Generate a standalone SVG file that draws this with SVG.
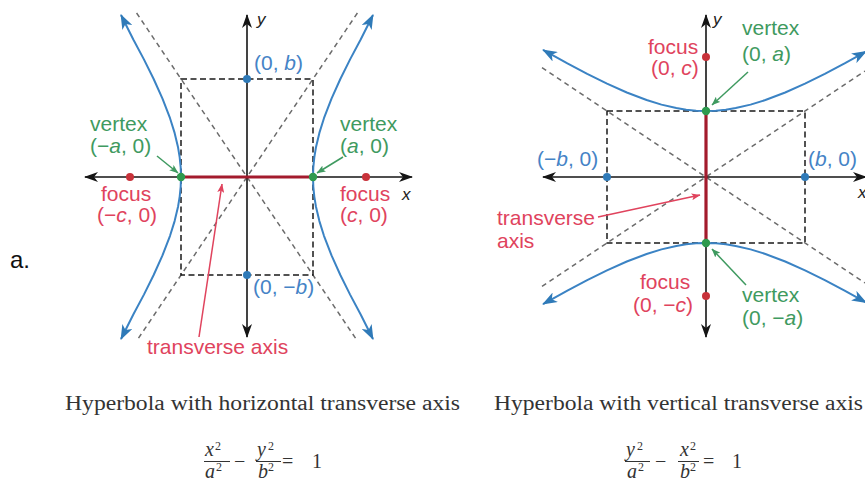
<svg xmlns="http://www.w3.org/2000/svg" width="865" height="487" viewBox="0 0 865 487">
<defs>
<style>
.lbl{font-family:"Liberation Sans",Arial,sans-serif;font-size:21px}
.blue{fill:#4583c6}.green{fill:#3f9a60}.red{fill:#e0435d}
.it{font-style:italic}
.axlbl{font-family:"Liberation Sans",Arial,sans-serif;font-size:17px;font-style:italic;fill:#222}
.cap{font-family:"Liberation Serif","Times New Roman",serif;font-size:20px;fill:#333}
.math{font-family:"Liberation Serif","Times New Roman",serif;font-size:20px;fill:#333}
.sup{font-family:"Liberation Serif","Times New Roman",serif;font-size:12px;fill:#333}
.asym{fill:none;stroke:#6b6b6b;stroke-width:1.5;stroke-dasharray:5 4}
.box{fill:none;stroke:#1a1a1a;stroke-width:1.5;stroke-dasharray:6 3.5}
.axis{fill:none;stroke:#151515;stroke-width:1.6;marker-start:url(#axArrow);marker-end:url(#axArrow)}
.curve{fill:none;stroke:#3b83c4;stroke-width:2;stroke-linejoin:round;marker-start:url(#blueArrow);marker-end:url(#blueArrow)}
.trans{stroke:#a31b2d;stroke-width:3.2}
.gptr{stroke:#3f9a60;stroke-width:1.5;marker-end:url(#greenArrow)}
.rptr{stroke:#e0435d;stroke-width:1.5;marker-end:url(#redArrow)}
.bdot{fill:#2f7ab8}.gdot{fill:#2e9a4e}.rdot{fill:#c8323a}
.frac{stroke:#333;stroke-width:1}
</style>
<marker id="axArrow" markerUnits="userSpaceOnUse" markerWidth="14" markerHeight="10" viewBox="0 0 14 10" refX="13" refY="5" orient="auto-start-reverse"><path d="M0,0 L14,5 L0,10 L4,5 z" fill="#151515"/></marker>
<marker id="blueArrow" markerUnits="userSpaceOnUse" markerWidth="15" markerHeight="11" viewBox="0 0 15 11" refX="14" refY="5.5" orient="auto-start-reverse"><path d="M0,0 L15,5.5 L0,11 L4,5.5 z" fill="#2f7ab8"/></marker>
<marker id="greenArrow" markerUnits="userSpaceOnUse" markerWidth="9" markerHeight="7" viewBox="0 0 9 7" refX="8.5" refY="3.5" orient="auto"><path d="M0,0 L9,3.5 L0,7 L2,3.5 z" fill="#3f9a60"/></marker>
<marker id="redArrow" markerUnits="userSpaceOnUse" markerWidth="9" markerHeight="7" viewBox="0 0 9 7" refX="8.5" refY="3.5" orient="auto"><path d="M0,0 L9,3.5 L0,7 L2,3.5 z" fill="#e0435d"/></marker>
</defs>
<rect width="865" height="487" fill="#ffffff"/>

<text x="10" y="268" font-family="'Liberation Sans',Arial,sans-serif" font-size="24" fill="#111">a.</text>

<g id="horizontal-hyperbola">
  <line class="asym" x1="136.6" y1="13" x2="357.4" y2="341"/>
  <line class="asym" x1="357.4" y1="13" x2="136.6" y2="341"/>
  <rect class="box" x="181" y="79" width="132" height="196"/>
  <line class="axis" x1="85" y1="177" x2="412" y2="177"/>
  <line class="axis" x1="247" y1="337" x2="247" y2="15"/>
  <polyline class="curve" points="121,15 133.45,39.8 143.91,59.4 153.66,79 162.48,98.6 170.03,118.2 174.62,132.9 178.09,147.6 179.69,157.4 180.67,167.2 181,177 180.67,186.8 179.69,196.6 178.09,206.4 174.62,221.1 170.03,235.8 162.48,255.4 153.66,275 143.91,294.6 133.45,314.2 121,339"/>
  <polyline class="curve" points="373,15 360.55,39.8 350.09,59.4 340.34,79 331.52,98.6 323.97,118.2 319.38,132.9 315.91,147.6 314.31,157.4 313.33,167.2 313,177 313.33,186.8 314.31,196.6 315.91,206.4 319.38,221.1 323.97,235.8 331.52,255.4 340.34,275 350.09,294.6 360.55,314.2 373,339"/>
  <line class="trans" x1="181" y1="177" x2="313" y2="177"/>
  <circle class="bdot" cx="247" cy="79" r="4"/>
  <circle class="bdot" cx="247" cy="275" r="4"/>
  <circle class="gdot" cx="181" cy="177" r="4.2"/>
  <circle class="gdot" cx="313" cy="177" r="4.2"/>
  <circle class="rdot" cx="130" cy="177" r="4"/>
  <circle class="rdot" cx="366" cy="177" r="4"/>
  <g id="h-pointers">
    <line class="gptr" x1="157" y1="156" x2="178" y2="173"/>
    <line class="gptr" x1="343" y1="157" x2="317" y2="173"/>
    <line class="rptr" x1="199" y1="337" x2="222" y2="184"/>
  </g>
  <text class="axlbl" x="257" y="25">y</text>
  <text class="axlbl" x="402" y="200">x</text>
  <text class="lbl blue" x="254" y="70">(0, <tspan class="it">b</tspan>)</text>
  <text class="lbl green" x="90" y="131">vertex</text>
  <text class="lbl green" x="90" y="153">(−<tspan class="it">a</tspan>, 0)</text>
  <text class="lbl green" x="340" y="131">vertex</text>
  <text class="lbl green" x="340" y="153">(<tspan class="it">a</tspan>, 0)</text>
  <text class="lbl red" x="101" y="201">focus</text>
  <text class="lbl red" x="97" y="222">(−<tspan class="it">c</tspan>, 0)</text>
  <text class="lbl red" x="340" y="201">focus</text>
  <text class="lbl red" x="340" y="222">(<tspan class="it">c</tspan>, 0)</text>
  <text class="lbl blue" x="253" y="294">(0, −<tspan class="it">b</tspan>)</text>
  <text class="lbl red" x="147" y="354">transverse axis</text>
</g>

<g id="vertical-hyperbola">
  <line class="asym" x1="542" y1="67.7" x2="865" y2="283"/>
  <line class="asym" x1="542" y1="286.3" x2="865" y2="71"/>
  <rect class="box" x="607" y="111" width="198" height="132"/>
  <line class="axis" x1="543" y1="177" x2="866" y2="177"/>
  <line class="axis" x1="706" y1="337" x2="706" y2="15"/>
  <polyline class="curve" points="543.05,49.89 567.4,63.45 587.2,73.9 607,83.66 626.8,92.48 646.6,100.03 661.45,104.62 676.3,108.09 686.2,109.69 696.1,110.67 706,111 715.9,110.67 725.8,109.69 735.7,108.09 750.55,104.62 765.4,100.03 785.2,92.48 805,83.66 824.8,73.9 844.6,63.45 866,51.5"/>
  <polyline class="curve" points="543.05,304.11 567.4,290.55 587.2,280.1 607,270.34 626.8,261.52 646.6,253.97 661.45,249.38 676.3,245.91 686.2,244.31 696.1,243.33 706,243 715.9,243.33 725.8,244.31 735.7,245.91 750.55,249.38 765.4,253.97 785.2,261.52 805,270.34 824.8,280.1 844.6,290.55 866,302.5"/>
  <line class="trans" x1="706" y1="111" x2="706" y2="243"/>
  <circle class="bdot" cx="607" cy="177" r="4"/>
  <circle class="bdot" cx="805" cy="177" r="4"/>
  <circle class="gdot" cx="706" cy="111" r="4.2"/>
  <circle class="gdot" cx="706" cy="243" r="4.2"/>
  <circle class="rdot" cx="706" cy="57" r="4"/>
  <circle class="rdot" cx="706" cy="296" r="4"/>
  <g id="v-pointers">
    <line class="gptr" x1="748" y1="72" x2="712" y2="105"/>
    <line class="rptr" x1="598" y1="217" x2="700" y2="195"/>
    <line class="gptr" x1="746" y1="285" x2="712" y2="249"/>
  </g>
  <text class="axlbl" x="713" y="25">y</text>
  <text class="axlbl" x="858" y="198">x</text>
  <text class="lbl red" x="648" y="54">focus</text>
  <text class="lbl red" x="651" y="75">(0, <tspan class="it">c</tspan>)</text>
  <text class="lbl green" x="742" y="35">vertex</text>
  <text class="lbl green" x="742" y="61">(0, <tspan class="it">a</tspan>)</text>
  <text class="lbl blue" x="537" y="166">(−<tspan class="it">b</tspan>, 0)</text>
  <text class="lbl blue" x="808" y="166">(<tspan class="it">b</tspan>, 0)</text>
  <text class="lbl red" x="497" y="225">transverse</text>
  <text class="lbl red" x="497" y="248">axis</text>
  <text class="lbl red" x="640" y="289">focus</text>
  <text class="lbl red" x="633" y="312">(0, −<tspan class="it">c</tspan>)</text>
  <text class="lbl green" x="742" y="302">vertex</text>
  <text class="lbl green" x="742" y="325">(0, −<tspan class="it">a</tspan>)</text>
</g>

<g id="captions">
  <text class="cap" x="65" y="410" textLength="395" lengthAdjust="spacingAndGlyphs">Hyperbola with horizontal transverse axis</text>
  <text class="cap" x="494" y="410" textLength="369" lengthAdjust="spacingAndGlyphs">Hyperbola with vertical transverse axis</text>
</g>

<g id="equation-horizontal">
  <text class="math it" x="205" y="456">x</text><text class="sup" x="215" y="450">2</text>
  <line class="frac" x1="204" y1="461.5" x2="230" y2="461.5"/>
  <text class="math it" x="205" y="478">a</text><text class="sup" x="216" y="471">2</text>
  <text class="math" x="234" y="468">−</text>
  <text class="math it" x="257" y="456">y</text><text class="sup" x="268" y="450">2</text>
  <line class="frac" x1="256" y1="461.5" x2="281" y2="461.5"/>
  <text class="math it" x="258" y="478">b</text><text class="sup" x="268" y="471">2</text>
  <text class="math" x="282" y="468">=</text>
  <text class="math" x="312" y="468">1</text>
</g>

<g id="equation-vertical">
  <text class="math it" x="626" y="456">y</text><text class="sup" x="637" y="450">2</text>
  <line class="frac" x1="625" y1="461.5" x2="650" y2="461.5"/>
  <text class="math it" x="627" y="478">a</text><text class="sup" x="638" y="471">2</text>
  <text class="math" x="655" y="468">−</text>
  <text class="math it" x="680" y="456">x</text><text class="sup" x="690" y="450">2</text>
  <line class="frac" x1="678" y1="461.5" x2="699" y2="461.5"/>
  <text class="math it" x="680" y="478">b</text><text class="sup" x="690" y="471">2</text>
  <text class="math" x="703" y="468">=</text>
  <text class="math" x="732" y="468">1</text>
</g>
</svg>
